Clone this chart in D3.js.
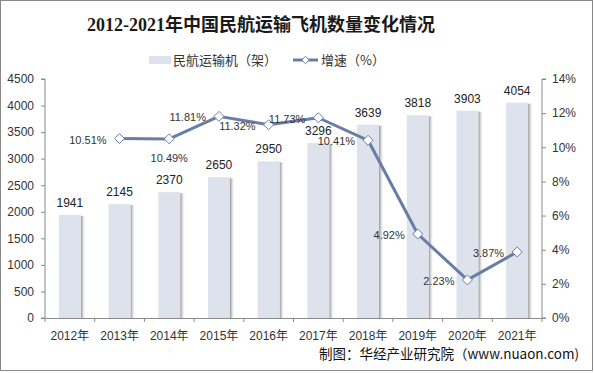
<!DOCTYPE html>
<html><head><meta charset="utf-8">
<script src="https://cdn.jsdelivr.net/npm/d3@7"></script>
<style>
html,body{margin:0;padding:0;background:#fff;}
svg{display:block;}
</style></head>
<body>
<div id="chart"></div>
<script>
const categories = ["2012年","2013年","2014年","2015年","2016年","2017年","2018年","2019年","2020年","2021年"];
const aircraft = [1941,2145,2370,2650,2950,3296,3639,3818,3903,4054];
const growth = [null,10.51,10.49,11.81,11.32,11.73,10.41,4.92,2.23,3.87];
const growthLabelSide = ["left","left","below","left","left","left","left","left","left","left"];
const leftTicks = [0,500,1000,1500,2000,2500,3000,3500,4000,4500];
const rightTicks = [0,2,4,6,8,10,12,14];

const W = 594, H = 373;
const m = {left:45, right:52, top:79, bottom:55};
const svg = d3.select("#chart").append("svg").attr("width",W).attr("height",H);

svg.append("rect").attr("x",0.5).attr("y",0.5).attr("width",W-2).attr("height",H-3)
  .attr("fill","#fff").attr("stroke","#8a8a8a");

const x = d3.scaleBand().domain(categories).range([m.left, W-m.right]);
const yL = d3.scaleLinear().domain([0,4500]).range([H-m.bottom, m.top]);
const yR = d3.scaleLinear().domain([0,14]).range([H-m.bottom, m.top]);

const defs = svg.append("defs");
const g = defs.append("linearGradient").attr("id","shadow").attr("x1","0").attr("x2","1");
g.append("stop").attr("offset","0").attr("stop-color","#8c8c8c");
g.append("stop").attr("offset","1").attr("stop-color","#ffffff").attr("stop-opacity",0);

// title
svg.append("text").attr("x",261).attr("y",31).attr("text-anchor","middle")
  .attr("font-family","'Liberation Serif','Noto Sans CJK SC',serif").attr("font-weight","bold")
  .attr("font-size",18).attr("fill","#1a1a1a")
  .text("2012-2021年中国民航运输飞机数量变化情况");

// legend
const leg = svg.append("g").attr("font-family","'Noto Sans CJK SC','Liberation Sans',sans-serif").attr("font-size",13).attr("fill","#333");
leg.append("rect").attr("x",149).attr("y",56).attr("width",22).attr("height",8).attr("fill","#dee2ec");
leg.append("text").attr("x",173).attr("y",65).text("民航运输机（架）");
leg.append("line").attr("x1",293).attr("x2",318).attr("y1",60).attr("y2",60).attr("stroke","#6a7da6").attr("stroke-width",3);
leg.append("path").attr("d",d3.symbol(d3.symbolDiamond2? d3.symbolDiamond2: d3.symbolDiamond,36)())
  .attr("transform","translate(305.5,60)").attr("fill","#fff").attr("stroke","#6a7da6").attr("stroke-width",1);
leg.append("text").attr("x",321).attr("y",65).text("增速（%）");

// bars
const bw = 22;
const bars = svg.append("g");
categories.forEach((c,i)=>{
  const cx = x(c) + x.bandwidth()/2;
  const y0 = yL(aircraft[i]);
  bars.append("rect").attr("x",cx+bw/2).attr("y",y0+1).attr("width",5).attr("height",yL(0)-y0-1).attr("fill","url(#shadow)");
  bars.append("rect").attr("x",cx-bw/2).attr("y",y0).attr("width",bw).attr("height",yL(0)-y0).attr("fill","#dee2ec");
  bars.append("text").attr("x",cx).attr("y",y0-8).attr("text-anchor","middle")
    .attr("font-family","'Liberation Sans',Arial,sans-serif").attr("font-size",12).attr("fill","#222")
    .text(aircraft[i]);
});

// axes
const axisColor = "#8a8a8a";
const axL = svg.append("g").attr("transform",`translate(${m.left},0)`)
  .call(d3.axisLeft(yL).tickValues(leftTicks).tickSize(4).tickPadding(7).tickFormat(d3.format("d")));
const axR = svg.append("g").attr("transform",`translate(${W-m.right},0)`)
  .call(d3.axisRight(yR).tickValues(rightTicks).tickSize(4).tickPadding(6).tickFormat(d=>d+"%"));
const axB = svg.append("g").attr("transform",`translate(0,${H-m.bottom})`)
  .call(d3.axisBottom(x).tickSize(0).tickPadding(13));
[axL,axR,axB].forEach(a=>{
  a.select(".domain").attr("stroke",axisColor);
  a.selectAll(".tick line").attr("stroke",axisColor);
  a.selectAll("text").attr("font-family","'Liberation Sans','Noto Sans CJK SC',Arial,sans-serif").attr("font-size",12).attr("fill","#333");
});
axL.select(".domain").attr("d",`M-4,${yL(4500)}H0V${yL(0)}H-4`);
axR.select(".domain").attr("d",`M4,${yR(14)}H0V${yR(0)}H4`);
const edges = categories.map(c=>x(c)).concat([W-m.right]);
axB.selectAll(".edge").data(edges).enter().append("line").attr("class","edge")
  .attr("x1",d=>d).attr("x2",d=>d).attr("y1",0).attr("y2",4).attr("stroke",axisColor);

// line
const pts = categories.map((c,i)=>({c, v:growth[i], side:growthLabelSide[i]})).filter(d=>d.v!=null);
const line = d3.line().x(d=>x(d.c)+x.bandwidth()/2).y(d=>yR(d.v));
svg.append("path").datum(pts).attr("d",line).attr("fill","none").attr("stroke","#6a7da6").attr("stroke-width",3).attr("stroke-linejoin","round");
svg.selectAll(".mk").data(pts).enter().append("path")
  .attr("d",d3.symbol(d3.symbolDiamond2? d3.symbolDiamond2: d3.symbolDiamond,64)())
  .attr("transform",d=>`translate(${x(d.c)+x.bandwidth()/2},${yR(d.v)})`)
  .attr("fill","#fff").attr("stroke","#6a7da6").attr("stroke-width",1);
svg.selectAll(".gl").data(pts).enter().append("text")
  .attr("x",d=>x(d.c)+x.bandwidth()/2 + (d.side==="left"? -13 : 0))
  .attr("y",d=>yR(d.v) + (d.side==="left"? 5 : 23))
  .attr("text-anchor",d=>d.side==="left"?"end":"middle")
  .attr("font-family","'Liberation Sans',Arial,sans-serif").attr("font-size",11).attr("fill","#333")
  .text(d=>d.v.toFixed(2)+"%");

// source
svg.append("text").attr("x",579).attr("y",359).attr("text-anchor","end")
  .attr("font-family","'Noto Sans CJK SC','Liberation Sans',sans-serif").attr("font-size",13.5).attr("fill","#111")
  .text("制图：华经产业研究院（www.nuaon.com)");
</script>
</body></html>
